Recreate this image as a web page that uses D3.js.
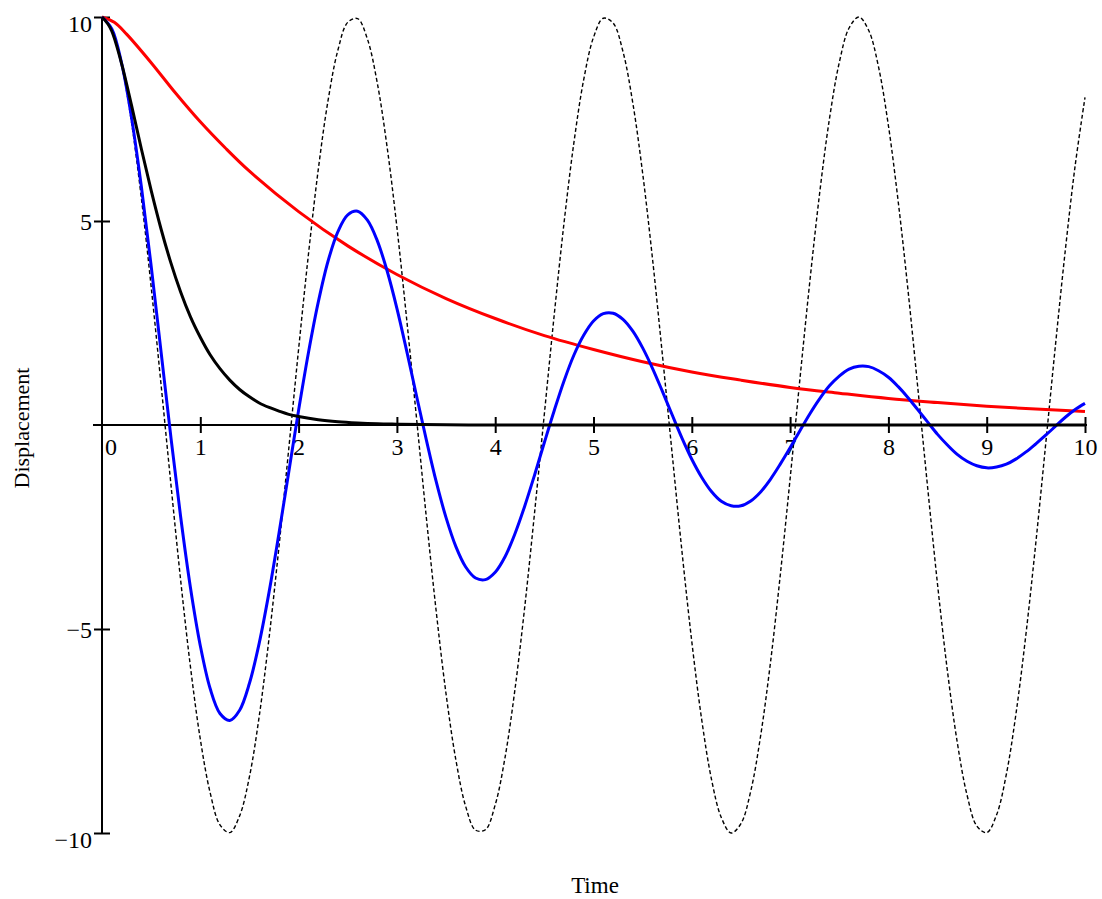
<!DOCTYPE html>
<html>
<head>
<meta charset="utf-8">
<script src="https://cdn.jsdelivr.net/npm/d3@7"></script>
<style>body{margin:0;background:#fff;}</style>
</head>
<body>
<script>
var canvaswidth=1102;
var canvasheight=899;

// sample times (0 to 10, step 0.1) for the two oscillating curves
var timeFine=[0,0.1,0.2,0.3,0.4,0.5,0.6,0.7,0.8,0.9,
	1,1.1,1.2,1.3,1.4,1.5,1.6,1.7,1.8,1.9,
	2,2.1,2.2,2.3,2.4,2.5,2.6,2.7,2.8,2.9,
	3,3.1,3.2,3.3,3.4,3.5,3.6,3.7,3.8,3.9,
	4,4.1,4.2,4.3,4.4,4.5,4.6,4.7,4.8,4.9,
	5,5.1,5.2,5.3,5.4,5.5,5.6,5.7,5.8,5.9,
	6,6.1,6.2,6.3,6.4,6.5,6.6,6.7,6.8,6.9,
	7,7.1,7.2,7.3,7.4,7.5,7.6,7.7,7.8,7.9,
	8,8.1,8.2,8.3,8.4,8.5,8.6,8.7,8.8,8.9,
	9,9.1,9.2,9.3,9.4,9.5,9.6,9.7,9.8,9.9,
	10];
// no damping (dashed)
var undamped=[10,9.70,8.82,7.42,5.57,3.39,1.01,-1.43,-3.80,-5.93,
	-7.70,-9.01,-9.80,-9.99,-9.58,-8.62,-7.13,-5.21,-2.99,-0.58,
	1.86,4.18,6.26,7.96,9.19,9.87,9.96,9.46,8.39,6.82,
	4.85,2.58,0.16,-2.28,-4.57,-6.59,-8.21,-9.35,-9.93,-9.92,
	-9.31,-8.15,-6.50,-4.47,-2.16,0.27,2.69,4.95,6.91,8.46,
	9.50,9.97,9.85,9.15,7.89,6.17,4.08,1.74,-0.70,-3.10,
	-5.31,-7.21,-8.68,-9.62,-10.00,-9.77,-8.97,-7.62,-5.83,-3.68,
	-1.32,1.13,3.50,5.67,7.50,8.88,9.73,10.00,9.67,8.77,
	7.34,5.47,3.29,0.89,-1.55,-3.91,-6.02,-7.77,-9.07,-9.83,
	-9.99,-9.56,-8.56,-7.04,-5.11,-2.88,-0.47,1.97,4.29,6.36,
	8.03];
// underdamped (blue)
var underdamped=[10.00,9.71,8.86,7.54,5.85,3.90,1.81,-0.28,-2.25,-3.99,
	-5.41,-6.46,-7.07,-7.24,-6.99,-6.33,-5.34,-4.09,-2.66,-1.15,
	0.36,1.77,3.01,4.02,4.74,5.15,5.24,5.02,4.52,3.78,
	2.86,1.81,0.71,-0.37,-1.39,-2.27,-2.98,-3.48,-3.75,-3.79,
	-3.61,-3.23,-2.67,-1.99,-1.23,-0.43,0.35,1.08,1.71,2.20,
	2.55,2.73,2.74,2.59,2.30,1.89,1.39,0.83,0.25,-0.32,
	-0.84,-1.28,-1.63,-1.87,-1.98,-1.98,-1.86,-1.64,-1.33,-0.96,
	-0.56,-0.14,0.27,0.64,0.96,1.20,1.37,1.44,1.43,1.33,
	1.17,0.94,0.67,0.37,0.07,-0.23,-0.49,-0.72,-0.89,-1.00,
	-1.05,-1.03,-0.96,-0.83,-0.66,-0.46,-0.25,-0.03,0.19,0.38,
	0.53];
// critically damped (black)
var timeCrit=[0,0.1,0.2,0.3,0.4,0.5,0.6,0.7,0.8,0.9,1,1.1,1.2,1.3,1.4,1.5,1.6,1.7,1.8,1.9,2,
	2.2,2.4,2.6,2.8,3,3.5,4,5,6,7,8,9,10];
var critical=[10,9.65,8.85,7.84,6.77,5.75,4.81,3.98,3.26,2.65,2.15,1.72,1.38,1.10,0.87,0.69,0.54,0.43,0.34,0.26,0.21,
	0.13,0.08,0.05,0.03,0.02,0.004,0.001,0,0,0,0,0,0];
// overdamped (red)
var timeOver=[0,0.125,0.25,0.5,0.75,1,1.25,1.5,2,2.5,3,3.5,4,4.5,5,5.5,6,6.5,7,7.5,8,8.5,9,9.5,10];
var overdamped=[10,9.87,9.58,8.88,8.13,7.43,6.80,6.22,5.23,4.39,3.69,3.10,2.61,2.19,1.85,1.55,1.30,1.10,0.92,0.78,0.65,0.55,0.46,0.39,0.33];

var xTicks=[1,2,3,4,5,6,7,8,9,10];
var yTicks=[-10,-5,5,10];

var font="'Liberation Serif','Times New Roman',serif";

var svg=d3.select("body").append("svg")
	.attr("width",canvaswidth)
	.attr("height",canvasheight);

var x=d3.scaleLinear().domain([0,10]).range([102,1085]);
var y=d3.scaleLinear().domain([-10,10]).range([833,17]);

// axes cross at the origin
svg.append("line").attr("x1",x(0)-9).attr("x2",x(10)+2).attr("y1",y(0)).attr("y2",y(0)).attr("stroke","black").attr("stroke-width",2);
svg.append("line").attr("x1",x(0)).attr("x2",x(0)).attr("y1",y(10)).attr("y2",y(-10)).attr("stroke","black").attr("stroke-width",2);

var xAxis=svg.append("g").attr("transform","translate(0,"+y(0)+")")
	.call(d3.axisBottom(x).tickValues(xTicks).tickSizeOuter(0));
xAxis.select(".domain").remove();
xAxis.attr("font-family",font).attr("font-size",24);
xAxis.selectAll(".tick line").attr("y1",-8).attr("y2",8).attr("stroke","black").attr("stroke-width",2);
xAxis.selectAll(".tick text").attr("fill","black").attr("dy",null).attr("y",30);
svg.append("text").text("0").attr("x",x(0)+9).attr("y",y(0)+30).attr("text-anchor","middle")
	.attr("font-family",font).attr("font-size",24).attr("fill","black");

var yAxis=svg.append("g").attr("transform","translate("+x(0)+",0)")
	.call(d3.axisLeft(y).tickValues(yTicks).tickSizeOuter(0).tickFormat(function(d){return d<0?"\u2212"+(-d):d;}));
yAxis.select(".domain").remove();
yAxis.attr("font-family",font).attr("font-size",24);
yAxis.selectAll(".tick line").attr("x1",-8).attr("x2",8).attr("stroke","black").attr("stroke-width",2);
yAxis.selectAll(".tick text").attr("fill","black").attr("dy",null).attr("x",-10)
	.attr("y",function(d){return Math.abs(d)==10?14:8;}); //end labels sit a bit lower

svg.append("text").text("Time").attr("x",595).attr("y",893).attr("text-anchor","middle")
	.attr("font-family",font).attr("font-size",23).attr("fill","black");
svg.append("text").text("Displacement").attr("transform","translate(29,428) rotate(-90)").attr("text-anchor","middle")
	.attr("font-family",font).attr("font-size",22).attr("fill","black");

// curves
function curve(times,vals,kind) {
	return d3.line().x(function(d,i){return x(times[i]);}).y(function(d){return y(d);}).curve(kind)(vals);
}
svg.append("path").attr("d",curve(timeFine,undamped,d3.curveCatmullRom)).attr("fill","none")
	.attr("stroke","black").attr("stroke-width",1.4).attr("stroke-dasharray","4,2.5");
svg.append("path").attr("d",curve(timeOver,overdamped,d3.curveCatmullRom)).attr("fill","none")
	.attr("stroke","#ff0000").attr("stroke-width",3);
svg.append("path").attr("d",curve(timeFine,underdamped,d3.curveCatmullRom)).attr("fill","none")
	.attr("stroke","#0000ff").attr("stroke-width",3);
svg.append("path").attr("d",curve(timeCrit,critical,d3.curveMonotoneX)).attr("fill","none")
	.attr("stroke","black").attr("stroke-width",3);
</script>
</body>
</html>
